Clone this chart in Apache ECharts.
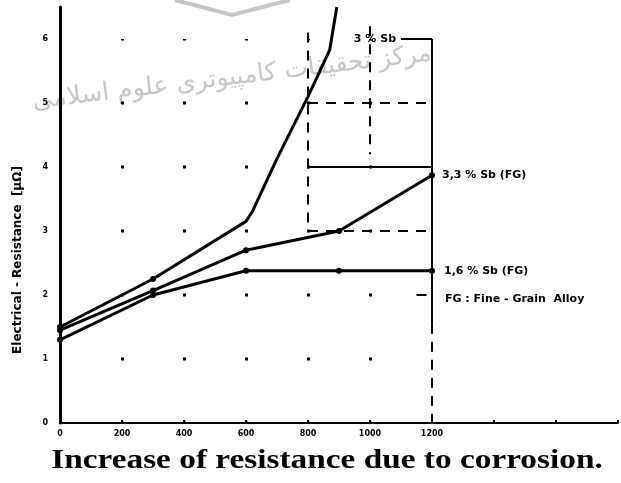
<!DOCTYPE html>
<html>
<head>
<meta charset="utf-8">
<script src="https://cdn.jsdelivr.net/npm/echarts@6/dist/echarts.min.js"></script>
<style>
html,body{margin:0;padding:0;background:#fff;}
#c{width:621px;height:483px;}
</style>
</head>
<body>
<div id="c"></div>
<script>
// ---- data ----
const xTicks = [0, 200, 400, 600, 800, 1000, 1200];
const yTicks = [0, 1, 2, 3, 4, 5, 6];
const sb3X  = [0, 300, 600, 620, 700, 800, 870, 893];
const sb3Y  = [1.5, 2.25, 3.15, 3.3, 4.13, 5.1, 5.83, 6.5];
const sb33X = [0, 300, 600, 900, 1200];
const sb33Y = [1.45, 2.07, 2.7, 3.0, 3.87];
const sb16X = [0, 300, 600, 900, 1200];
const sb16Y = [1.3, 2.0, 2.38, 2.38, 2.38];
const seriesNames = ['3 % Sb', '3,3 % Sb (FG)', '1,6 % Sb (FG)'];
const legendNote = 'FG : Fine - Grain  Alloy';
const yName = 'Electrical - Resistance  [\u00b5\u03a9]';
const caption = 'Increase of resistance due to corrosion.';
const watermark = 'مرکز تحقیقات کامپیوتری علوم اسلامی';
// reference bracket lines (data coordinates)
const refSolid = [
  [[1100, 6], [1200, 6]],
  [[1200, 6], [1200, 1.55]],
  [[800, 4], [1200, 4]]
];
const refDashed = [
  [[800, 5], [1200, 5]],
  [[800, 3], [1200, 3]],
  [[1200, 1.55], [1200, 0]],
  [[800, 6.1], [800, 3.1]],
  [[1000, 6.2], [1000, 4.2]],
  [[1150, 2], [1200, 2]]
];

const zip = (xs, ys) => xs.map((x, i) => [x, ys[i]]);
const chart = echarts.init(document.getElementById('c'));
const tickFont = {fontFamily: 'DejaVu Sans', fontWeight: 'bold', fontSize: 8, color: '#000'};
const noteFont = {fontFamily: 'DejaVu Sans', fontWeight: 'bold', fontSize: 11, color: '#000'};

const refSeries = [];
refSolid.forEach(seg => refSeries.push({
  type: 'line', data: seg, symbol: 'none', silent: true, z: 1,
  lineStyle: {color: '#000', width: 2}
}));
refDashed.forEach(seg => refSeries.push({
  type: 'line', data: seg, symbol: 'none', silent: true, z: 1,
  lineStyle: {color: '#000', width: 2, type: [10, 8]}
}));

chart.setOption({
  animation: false,
  backgroundColor: '#fff',
  grid: {left: 60, right: 3, top: 7, bottom: 60, containLabel: false},
  xAxis: {
    type: 'value', min: 0, max: 1800, interval: 200,
    axisLine: {lineStyle: {color: '#000', width: 2}},
    axisTick: {show: true, inside: true, length: 3, lineStyle: {color: '#000', width: 2}},
    axisLabel: Object.assign({margin: 7, formatter: v => xTicks.includes(v) ? String(v) : ''}, tickFont),
    splitLine: {show: false}
  },
  yAxis: {
    type: 'value', min: 0, max: 6.5, interval: 1,
    axisLine: {show: true, lineStyle: {color: '#000', width: 3}},
    axisTick: {show: false},
    axisLabel: Object.assign({margin: 12, formatter: v => yTicks.includes(v) ? String(v) : ''}, tickFont),
    splitLine: {show: false}
  },
  series: refSeries.concat([
    {
      name: seriesNames[0], type: 'line', data: zip(sb3X, sb3Y), z: 5,
      symbol: 'circle', symbolSize: (v, p) => p.dataIndex <= 1 ? 6 : 0,
      itemStyle: {color: '#000'},
      lineStyle: {color: '#000', width: 3}
    },
    {
      name: seriesNames[1], type: 'line', data: zip(sb33X, sb33Y), z: 5,
      symbol: 'circle', symbolSize: 6,
      itemStyle: {color: '#000'},
      lineStyle: {color: '#000', width: 3},
      endLabel: Object.assign({show: true, formatter: seriesNames[1], distance: 10}, noteFont)
    },
    {
      name: seriesNames[2], type: 'line', data: zip(sb16X, sb16Y), z: 5,
      symbol: 'circle', symbolSize: 6,
      itemStyle: {color: '#000'},
      lineStyle: {color: '#000', width: 3},
      endLabel: Object.assign({show: true, formatter: seriesNames[2], distance: 12}, noteFont),
      markLine: {
        silent: true, symbol: 'none', animation: false,
        label: {show: false},
        lineStyle: {color: '#000', width: 3, type: [3, 61], dashOffset: 1.5},
        data: xTicks.slice(1, -1).map(x => [{coord: [x, 0]}, {coord: [x, 6]}])
      }
    }
  ])
});

const p3 = chart.convertToPixel({gridIndex: 0}, [1100, 6]);
const pNote = chart.convertToPixel({gridIndex: 0}, [1200, 2]);
chart.setOption({
  graphic: [
    {type: 'text', z: 0, x: 232, y: 78, rotation: 0.12,
      style: {text: watermark, fontFamily: 'DejaVu Sans', fontSize: 25, fill: '#c6c6c6',
        align: 'center', verticalAlign: 'middle'}},
    {type: 'polyline', z: 0, shape: {points: [[175, 0], [232, 15], [290, 0]]},
      style: {stroke: '#c6c6c6', lineWidth: 4, fill: null}},
    {type: 'text', z: 10, x: p3[0] - 5, y: p3[1],
      style: {text: seriesNames[0], fontFamily: 'DejaVu Sans', fontWeight: 'bold', fontSize: 11,
        fill: '#000', align: 'right', verticalAlign: 'middle'}},
    {type: 'text', z: 10, x: pNote[0] + 13, y: pNote[1] + 4,
      style: {text: legendNote, fontFamily: 'DejaVu Sans', fontWeight: 'bold', fontSize: 11,
        fill: '#000', align: 'left', verticalAlign: 'middle'}},
    {type: 'text', z: 10, x: 18, y: 260, rotation: Math.PI / 2,
      style: {text: yName, fontFamily: 'DejaVu Sans', fontWeight: 'bold', fontSize: 12,
        fill: '#000', align: 'center', verticalAlign: 'middle'}},
    {type: 'text', z: 10, x: 327, y: 461, scaleX: 1.19,
      style: {text: caption, fontFamily: 'Liberation Serif', fontWeight: 'bold', fontSize: 28,
        fill: '#000', align: 'center', verticalAlign: 'middle'}}
  ]
});
</script>
</body>
</html>
